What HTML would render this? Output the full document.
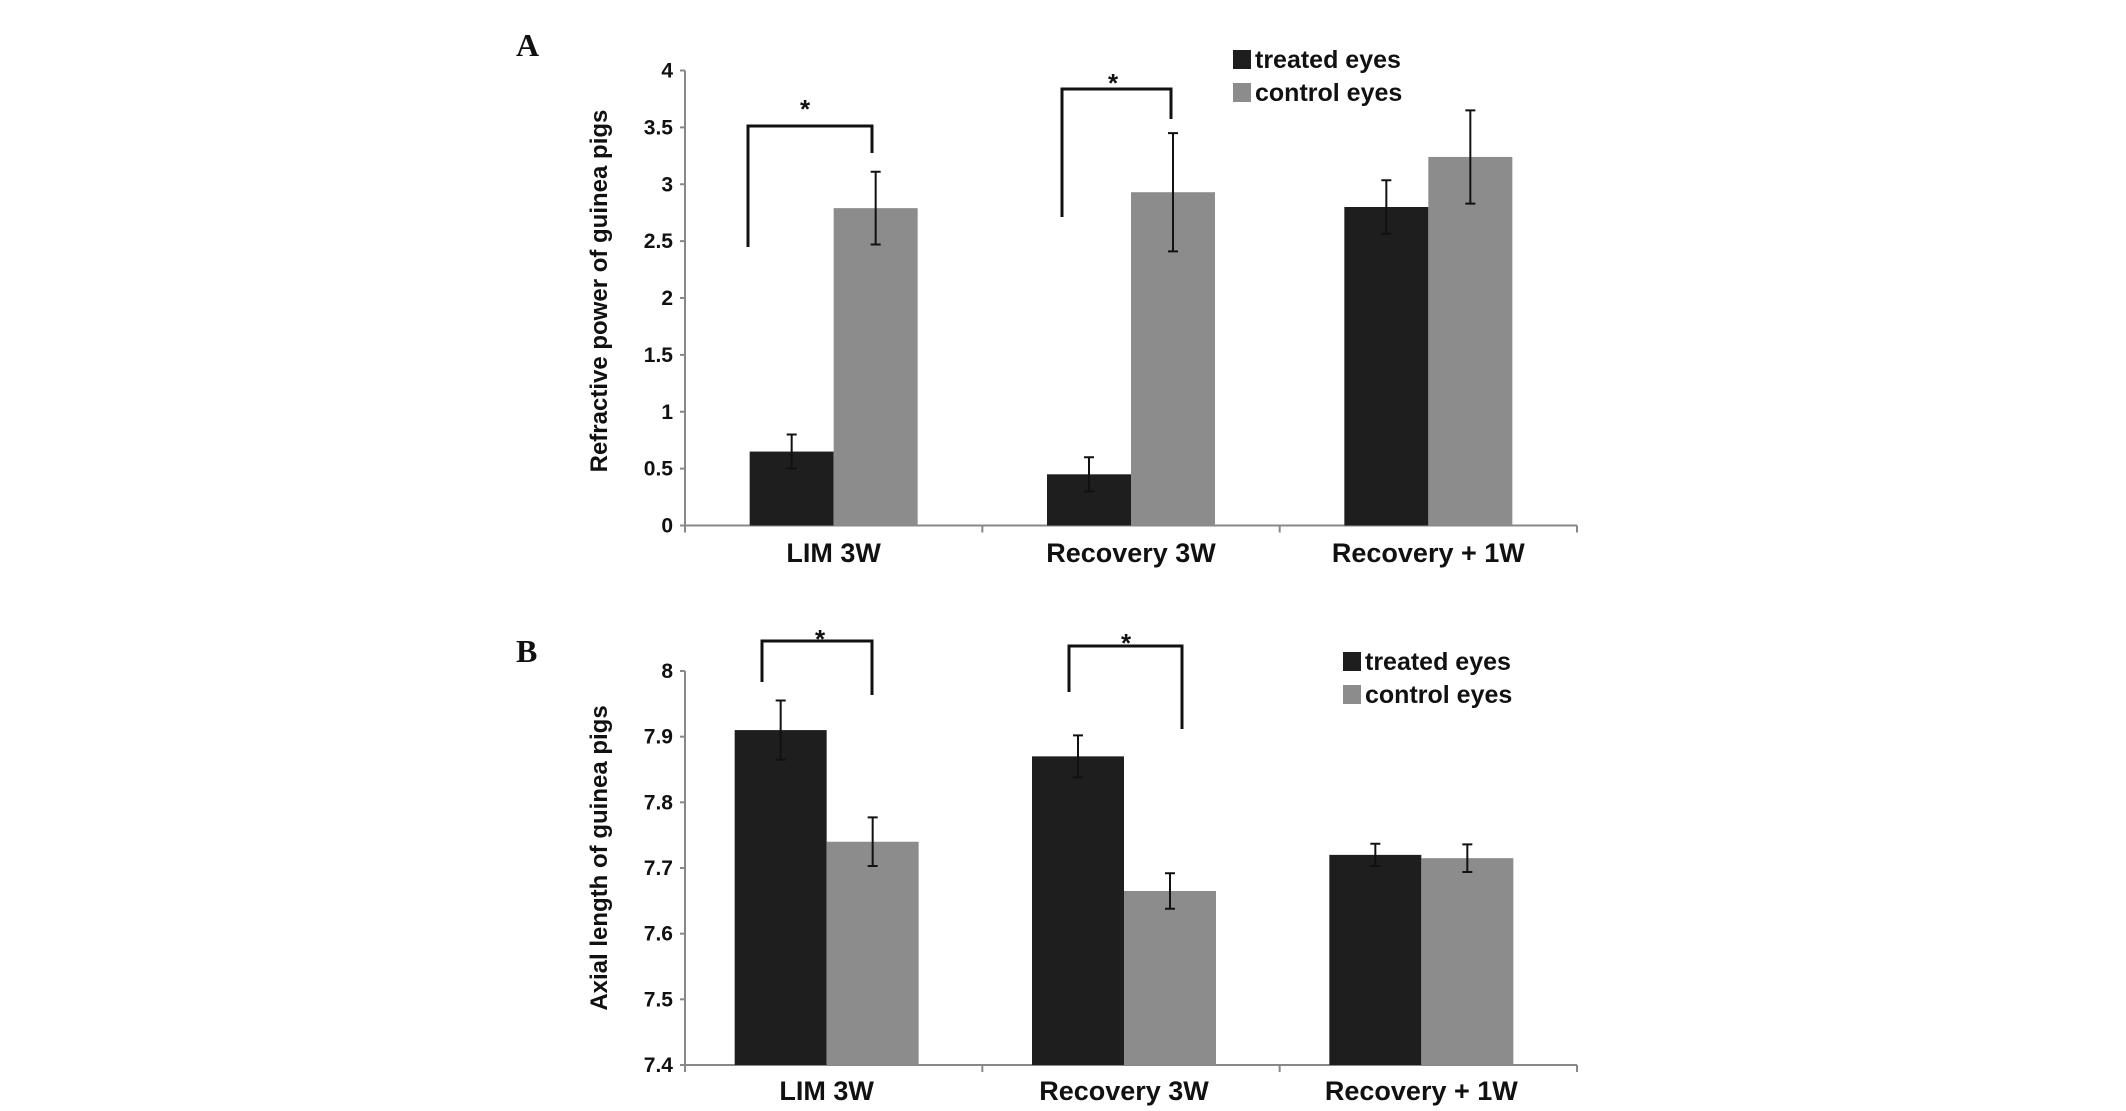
<!DOCTYPE html>
<html><head><meta charset="utf-8"><style>
html,body{margin:0;padding:0;background:#fff;}
svg{display:block;}
.n{font-family:"Liberation Sans Narrow","Liberation Sans",sans-serif;font-weight:bold;fill:#111;}
.w{font-family:"Liberation Sans",sans-serif;font-weight:bold;fill:#111;}
.s{font-family:"Liberation Serif",serif;font-weight:bold;fill:#111;}
</style></head><body>
<svg id="fig" width="2126" height="1111" viewBox="0 0 2126 1111" xmlns="http://www.w3.org/2000/svg"></svg>
<script>
const categories = ["LIM 3W", "Recovery 3W", "Recovery + 1W"];
const seriesNames = ["treated eyes", "control eyes"];
const aTreated = [0.65, 0.45, 2.8];
const aControl = [2.79, 2.93, 3.24];
const aTreatedErr = [0.15, 0.15, 0.235];
const aControlErr = [0.32, 0.52, 0.41];
const aTicks = ["0","0.5","1","1.5","2","2.5","3","3.5","4"];
const bTreated = [7.91, 7.87, 7.72];
const bControl = [7.74, 7.665, 7.715];
const bTreatedErr = [0.045, 0.032, 0.017];
const bControlErr = [0.037, 0.027, 0.021];
const bTicks = ["7.4","7.5","7.6","7.7","7.8","7.9","8"];

const NS = "http://www.w3.org/2000/svg";
const svg = document.getElementById("fig");
function mk(tag, attrs, parent, text){
  const e = document.createElementNS(NS, tag);
  for (const k in attrs) e.setAttribute(k, attrs[k]);
  if (text !== undefined) e.textContent = text;
  (parent || svg).appendChild(e);
  return e;
}
const colors = ["#1e1e1e", "#8c8c8c"];

function chart(cfg){
  const g = mk("g", {});
  
  
  const x0 = 685, x1 = 1577;
  const y = v => cfg.bottom - (v - cfg.min) / (cfg.max - cfg.min) * (cfg.bottom - cfg.top);
  const cw = (x1 - x0) / categories.length;
  const cx = i => x0 + (i + 0.5) * cw + cfg.shift;
  // axes
  const ya = mk("line", {x1:x0, y1:cfg.top, x2:x0, y2:cfg.bottom, stroke:"#888", "stroke-width":2}, g);
  
  
  const xa = mk("line", {x1:x0, y1:cfg.bottom, x2:x1, y2:cfg.bottom, stroke:"#888", "stroke-width":2}, g);
  
  
  cfg.ticks.forEach(t => {
    const yy = y(parseFloat(t));
    mk("line", {x1:x0-5, y1:yy, x2:x0, y2:yy, stroke:"#888", "stroke-width":2}, g);
    const tl = mk("text", {x:x0-12, y:yy+7, "text-anchor":"end", "font-size":21, class:"n"}, g, t);
    
    
  });
  for (let i = 0; i <= categories.length; i++) {
    const xx = x0 + i * cw;
    mk("line", {x1:xx, y1:cfg.bottom, x2:xx, y2:cfg.bottom+7, stroke:"#888", "stroke-width":2}, g);
  }
  categories.forEach((c, i) => {
    const cl = mk("text", {x:cx(i), y:cfg.catY, "text-anchor":"middle", "font-size":27, class:"n"}, g, c);
    
    
  });
  const series = [[cfg.t, cfg.te], [cfg.c, cfg.ce]];
  series.forEach((s, si) => {
    s[0].forEach((v, i) => {
      const left = cx(i) + (si - 1) * cfg.bw;
      const r = mk("rect", {x:left, y:y(v), width:cfg.bw, height:cfg.bottom - y(v), fill:colors[si]}, g);
      
      
      const mx = left + cfg.bw / 2, e = s[1][i];
      const eb = mk("path", {d:`M${mx},${y(v+e)}V${y(v-e)}M${mx-5},${y(v+e)}H${mx+5}M${mx-5},${y(v-e)}H${mx+5}`, stroke:"#111", "stroke-width":2, fill:"none"}, g);
      
      
    });
  });
  cfg.brackets.forEach(b => {
    const p = mk("path", {d:`M${b[0]},${b[3]}V${b[2]}H${b[1]}V${b[4]}`, stroke:"#111", "stroke-width":3, fill:"none"}, g);
    
    
    const st = mk("text", {x:(b[5]), y:b[6], "text-anchor":"middle", "font-size":26, class:"w"}, g, "*");
    
    
  });
  const yt = mk("text", {x:0, y:0, transform:`translate(607,${cfg.titleY}) rotate(-90)`, "text-anchor":"middle", "font-size":24, class:"w"}, g, cfg.title);
  
  
  const pl = mk("text", {x:516, y:cfg.labelY, "font-size":32, class:"s"}, g, cfg.label);
  
  
  seriesNames.forEach((n, si) => {
    const ly = cfg.legY + si * 33;
    const sq = mk("rect", {x:cfg.legX, y:ly-9, width:18, height:19, fill:colors[si]}, g);
    
    
    const lt = mk("text", {x:cfg.legX+22, y:ly+9, "font-size":25, class:"n"}, g, n);
    
    
  });
}

chart({name:"chart-a", label:"A", labelY:56, min:0, max:4, top:70.5, bottom:525.5, shift:0, bw:84,
  t:aTreated, c:aControl, te:aTreatedErr, ce:aControlErr, ticks:aTicks, catY:562,
  title:"Refractive power of guinea pigs", titleY:291, legX:1233, legY:59,
  brackets:[[748,872,126,247,153,805,118],[1062,1171,89,217,119,1113,92]]});
chart({name:"chart-b", label:"B", labelY:662, min:7.4, max:8, top:671, bottom:1065, shift:-7, bw:92,
  t:bTreated, c:bControl, te:bTreatedErr, ce:bControlErr, ticks:bTicks, catY:1100,
  title:"Axial length of guinea pigs", titleY:858, legX:1343, legY:661,
  brackets:[[762,872,641,682,695,820,648],[1069,1182,646,692,729,1126,652]]});
</script>
</body></html>
